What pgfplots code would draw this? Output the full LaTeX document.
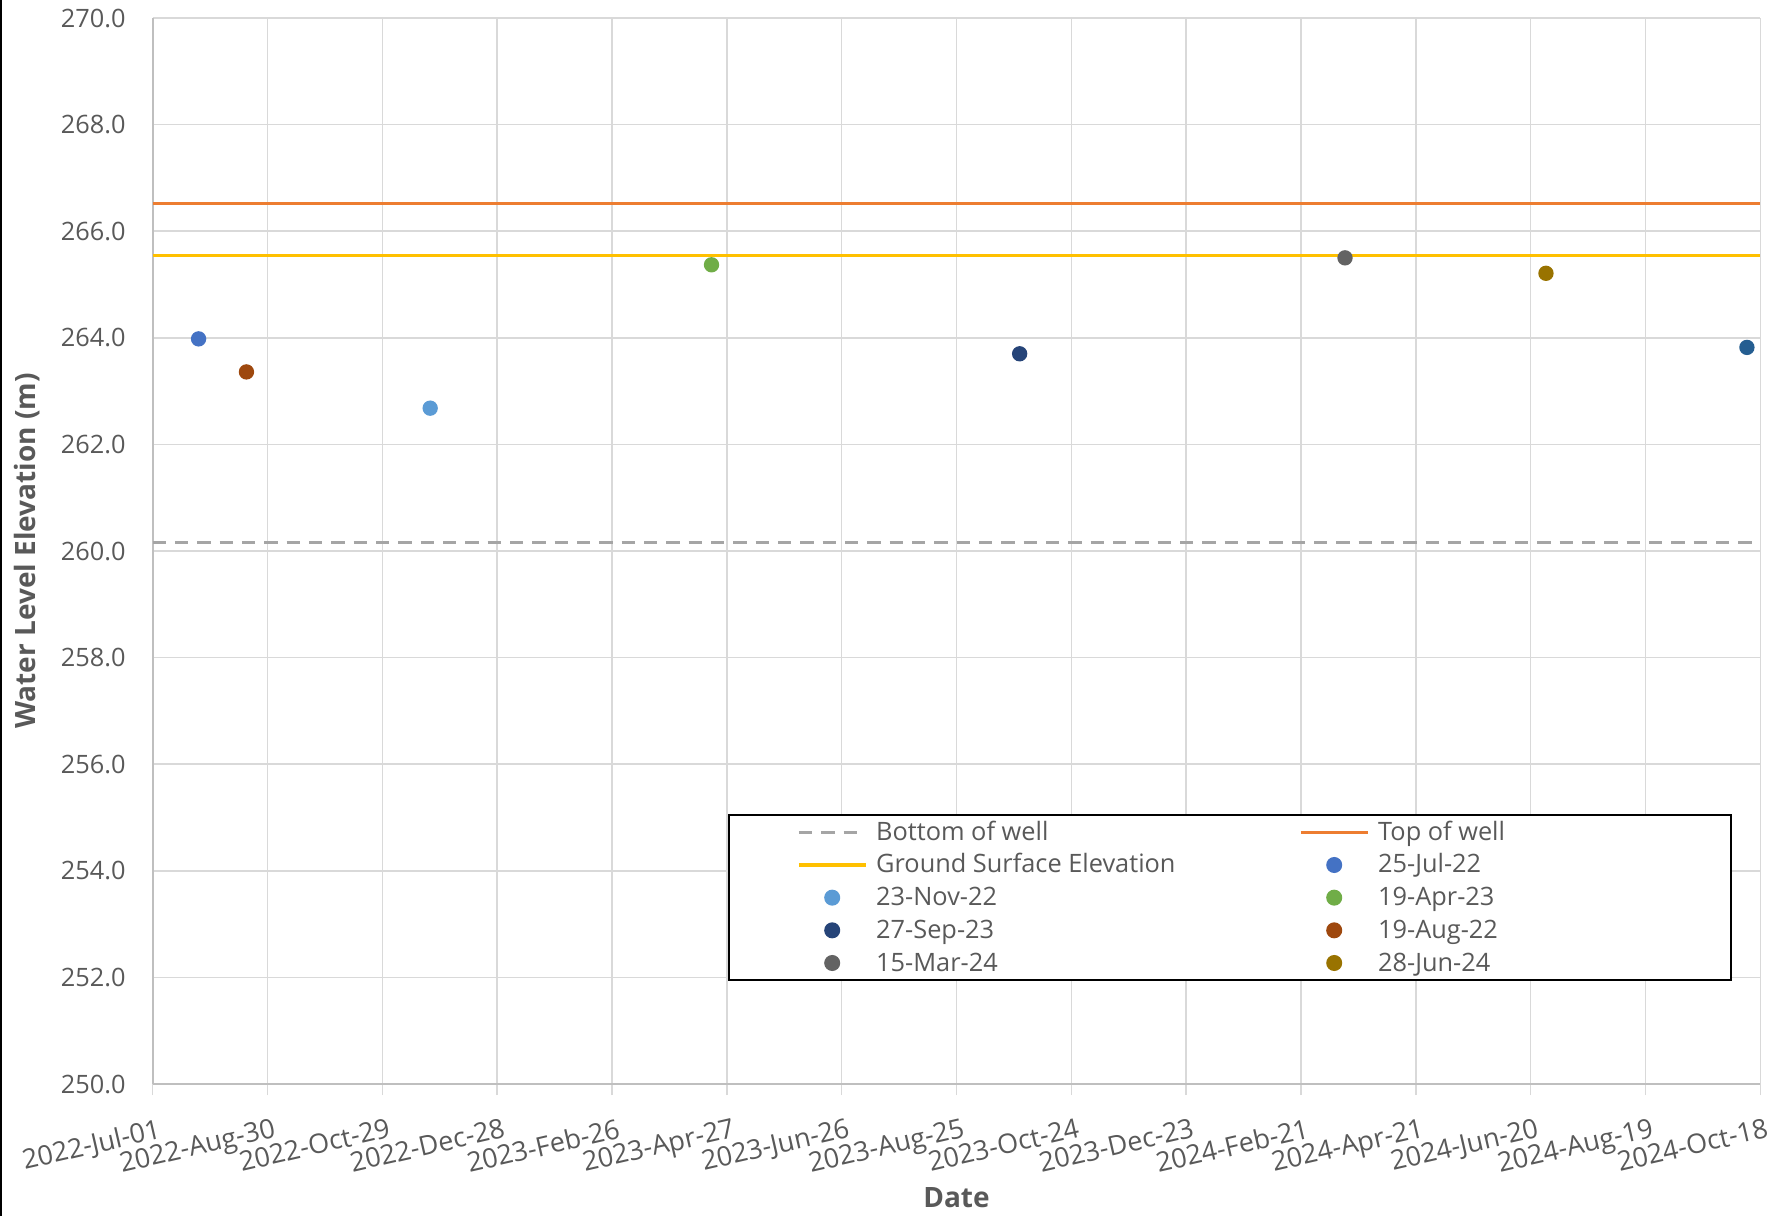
\documentclass[border=0pt]{standalone}
\usepackage{pgfplots}
\pgfplotsset{compat=1.18}
\usepackage{fontspec}
\setmainfont{Open Sans}
\definecolor{gridc}{HTML}{D9D9D9}
\definecolor{axc}{HTML}{BFBFBF}
\definecolor{txt}{HTML}{595959}
\definecolor{cBottom}{HTML}{A5A5A5}
\definecolor{cTop}{HTML}{ED7D31}
\definecolor{cGround}{HTML}{FFC000}
\definecolor{cA}{HTML}{4472C4}
\definecolor{cB}{HTML}{5B9BD5}
\definecolor{cC}{HTML}{70AD47}
\definecolor{cD}{HTML}{264478}
\definecolor{cE}{HTML}{9E480E}
\definecolor{cF}{HTML}{636363}
\definecolor{cG}{HTML}{997300}
\definecolor{cH}{HTML}{255E91}
\newcommand{\la}[1]{\makebox[124.2pt][l]{#1}}
\newcommand{\lb}[1]{\makebox[82.8pt][l]{#1}}
\begin{document}
\begin{tikzpicture}
\useasboundingbox (-45.8pt,-39.6pt) rectangle (486.1pt,325.2pt);
\draw[black, line width=0.7pt] (-45.45pt,-39.6pt) -- (-45.45pt,325.2pt);
\begin{axis}[
  at={(0,0)}, anchor=south west,
  scale only axis, width=482.3pt, height=319.8pt,
  xmin=0, xmax=840, ymin=250, ymax=270,
  xtick={0,60,...,840},
  xticklabels={2022-Jul-01,2022-Aug-30,2022-Oct-29,2022-Dec-28,2023-Feb-26,2023-Apr-27,2023-Jun-26,2023-Aug-25,2023-Oct-24,2023-Dec-23,2024-Feb-21,2024-Apr-21,2024-Jun-20,2024-Aug-19,2024-Oct-18},
  ytick={250,252,...,270},
  yticklabels={250.0,252.0,254.0,256.0,258.0,260.0,262.0,264.0,266.0,268.0,270.0},
  grid=major,
  major grid style={gridc, line width=0.45pt},
  axis x line*=bottom, axis y line*=left,
  axis line style={-, draw=axc, line width=0.6pt},
  tick align=outside, major tick length=3.3pt,
  xtick style={draw=gridc, line width=0.45pt},
  ytick style={draw=none},
  ticklabel style={font=\fontsize{7.6}{9}\selectfont, text=txt},
  xticklabel style={font=\fontsize{8.1}{9}\selectfont, rotate=13, anchor=north east, inner sep=0pt, yshift=-6.8pt},
  yticklabel style={anchor=east, inner sep=0pt, xshift=-4.6pt},
  xlabel={Date}, ylabel={Water Level Elevation (m)},
  every axis x label/.style={at={(axis description cs:0.5,-0.107)}, anchor=center, font=\fontsize{8.4}{9}\bfseries, text=txt},
  every axis y label/.style={at={(axis description cs:-0.0780,0.5)}, anchor=center, rotate=90, font=\fontsize{8.4}{9}\bfseries, text=txt},
  legend columns=2,
  legend cell align=left,
  legend style={at={(0.358,0.2533)}, anchor=north west, draw=black, line width=0.6pt,
    font=\fontsize{7.6}{9}\selectfont, text=txt, inner xsep=20.4pt, inner ysep=0.3pt,
    row sep=0pt, column sep=0pt,
    nodes={inner xsep=2.7pt, inner ysep=1pt, text height=6.3pt, text depth=1.5pt}},
  legend image code/.code={\draw[mark repeat=2,mark phase=2,#1] plot coordinates {(0pt,0pt) (10pt,0pt) (20pt,0pt)};},
]
\addplot[cBottom, line width=1pt, dash pattern=on 4pt off 2.7pt] coordinates {(0,260.16) (840,260.16)};
\addlegendentry{\la{Bottom of well}}
\addplot[cTop, line width=1pt] coordinates {(0,266.52) (840,266.52)};
\addlegendentry{\lb{Top of well}}
\addplot[cGround, line width=1pt] coordinates {(0,265.55) (840,265.55)};
\addlegendentry{\la{Ground Surface Elevation}}
\addplot[only marks, mark=*, mark size=2.1pt, cA] coordinates {(24,263.98)};
\addlegendentry{\lb{25-Jul-22}}
\addplot[only marks, mark=*, mark size=2.1pt, cB] coordinates {(145,262.68)};
\addlegendentry{\la{23-Nov-22}}
\addplot[only marks, mark=*, mark size=2.1pt, cC] coordinates {(292,265.37)};
\addlegendentry{\lb{19-Apr-23}}
\addplot[only marks, mark=*, mark size=2.1pt, cD] coordinates {(453,263.70)};
\addlegendentry{\la{27-Sep-23}}
\addplot[only marks, mark=*, mark size=2.1pt, cE] coordinates {(49,263.36)};
\addlegendentry{\lb{19-Aug-22}}
\addplot[only marks, mark=*, mark size=2.1pt, cF] coordinates {(623,265.50)};
\addlegendentry{\la{15-Mar-24}}
\addplot[only marks, mark=*, mark size=2.1pt, cG] coordinates {(728,265.21)};
\addlegendentry{\lb{28-Jun-24}}
\addplot[only marks, mark=*, mark size=2.1pt, cH, forget plot] coordinates {(833,263.82)};
\end{axis}
\end{tikzpicture}
\end{document}
